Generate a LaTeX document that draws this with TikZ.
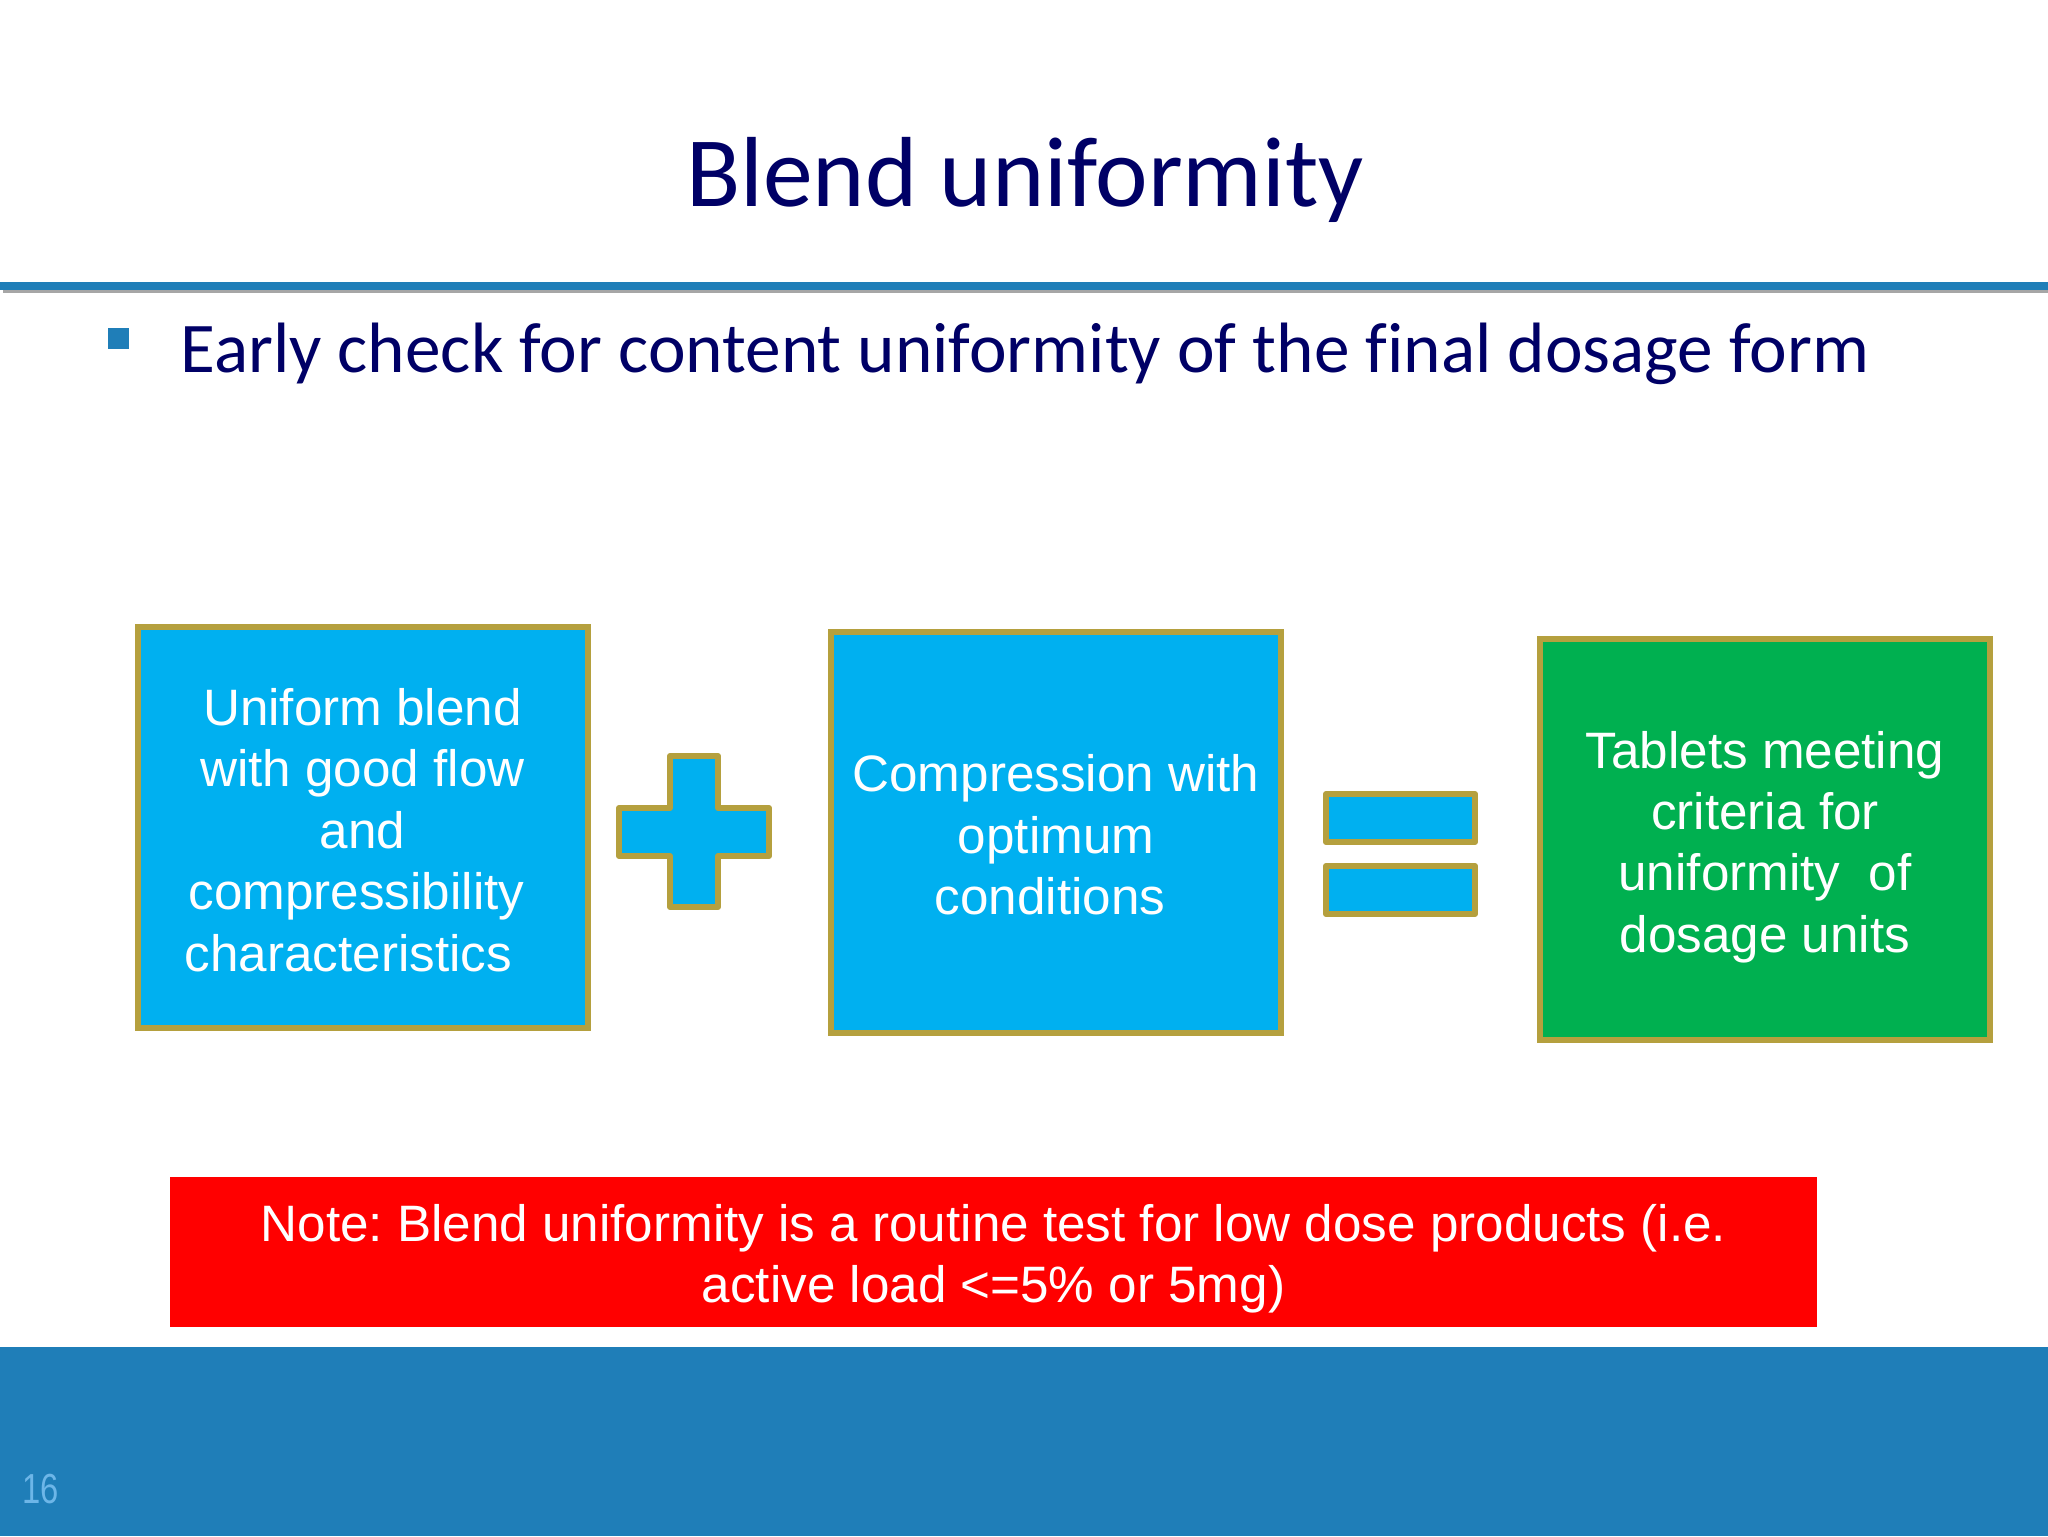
\documentclass[tikz,border=0pt]{standalone}
\usepackage{fontspec}
\setmainfont{Liberation Sans}
\newfontfamily\slidefont[Ligatures=NoCommon]{Carlito}
\definecolor{slideblue}{HTML}{1F7EB8}
\definecolor{titlenavy}{HTML}{000066}
\definecolor{boxblue}{HTML}{00B0F0}
\definecolor{boxgreen}{HTML}{00B050}
\definecolor{boxgold}{HTML}{B5A03E}
\definecolor{pagenum}{HTML}{6DB6E8}

\begin{document}
\frenchspacing
\begin{tikzpicture}[x=0.5pt,y=-0.5pt]
	\tikzset{stepbox/.style={draw=boxgold,line width=3pt,fill=boxblue,inner sep=0pt,minimum width=225pt,minimum height=200.5pt}}
	\tikzset{steptext/.style={text=white,align=center,inner sep=0pt,font=\fontsize{25.6}{30.7}\selectfont}}
	\tikzset{signshape/.style={draw=boxgold,line width=3pt,fill=boxblue,line join=round}}
	\useasboundingbox (0,0) rectangle (2048,1536);
	\fill[white] (0,0) rectangle (2048,1536);

	\node (title) at (1025,180) {\slidefont\fontsize{49.8}{54}\selectfont\color{titlenavy}Blend uniformity};
	\fill[black!35] (3,287) rectangle (2048,293);
	\fill[slideblue] (0,282) rectangle (2048,290);
	\fill[slideblue] (108,328) rectangle (129,349);
	\node[anchor=base west,inner sep=0pt] (check) at (180,372) {\slidefont\fontsize{35.65}{40}\selectfont\color{titlenavy}Early check for content uniformity of the final dosage form};

	\node[stepbox] (blend) at (362.5,827) {};
	\node[stepbox] (compression) at (1056,832) {};
	\node[stepbox,fill=boxgreen] (tablets) at (1765,839) {};
	\node[steptext] (blendtext) at (362.5,830) {Uniform blend\\with good flow\\and\\compressibility\hspace*{6pt}\null\\characteristics\hspace*{14pt}};
	\node[steptext] (compressiontext) at (1056,835) {Compression with\\optimum\\conditions\hspace*{6pt}};
	\node[steptext] (tabletstext) at (1765,847) {Tablets meeting\\criteria for\\uniformity~ of\\dosage units};

	\draw[signshape] (670,756) -- (718,756) -- (718,808) -- (769,808) -- (769,856) -- (718,856) -- (718,907) -- (670,907) -- (670,856) -- (619,856) -- (619,808) -- (670,808) -- cycle;
	\draw[signshape] (1326,794) rectangle (1475,842);
	\draw[signshape] (1326,866) rectangle (1475,914);

	\node[fill=red,inner sep=0pt,minimum width=823.5pt,minimum height=75pt] (note) at (993.5,1252) {};
	\node[steptext] (notetext) at (993.5,1259) {Note: Blend uniformity is a routine test for low dose products (i.e.\\active load <=5\% or 5mg)};

	\fill[slideblue] (0,1347) rectangle (2048,1536);
	\node[text=pagenum,inner sep=0pt,xscale=0.78,font=\fontsize{21}{24}\selectfont] (page) at (41,1489) {16};
\end{tikzpicture}
\end{document}
